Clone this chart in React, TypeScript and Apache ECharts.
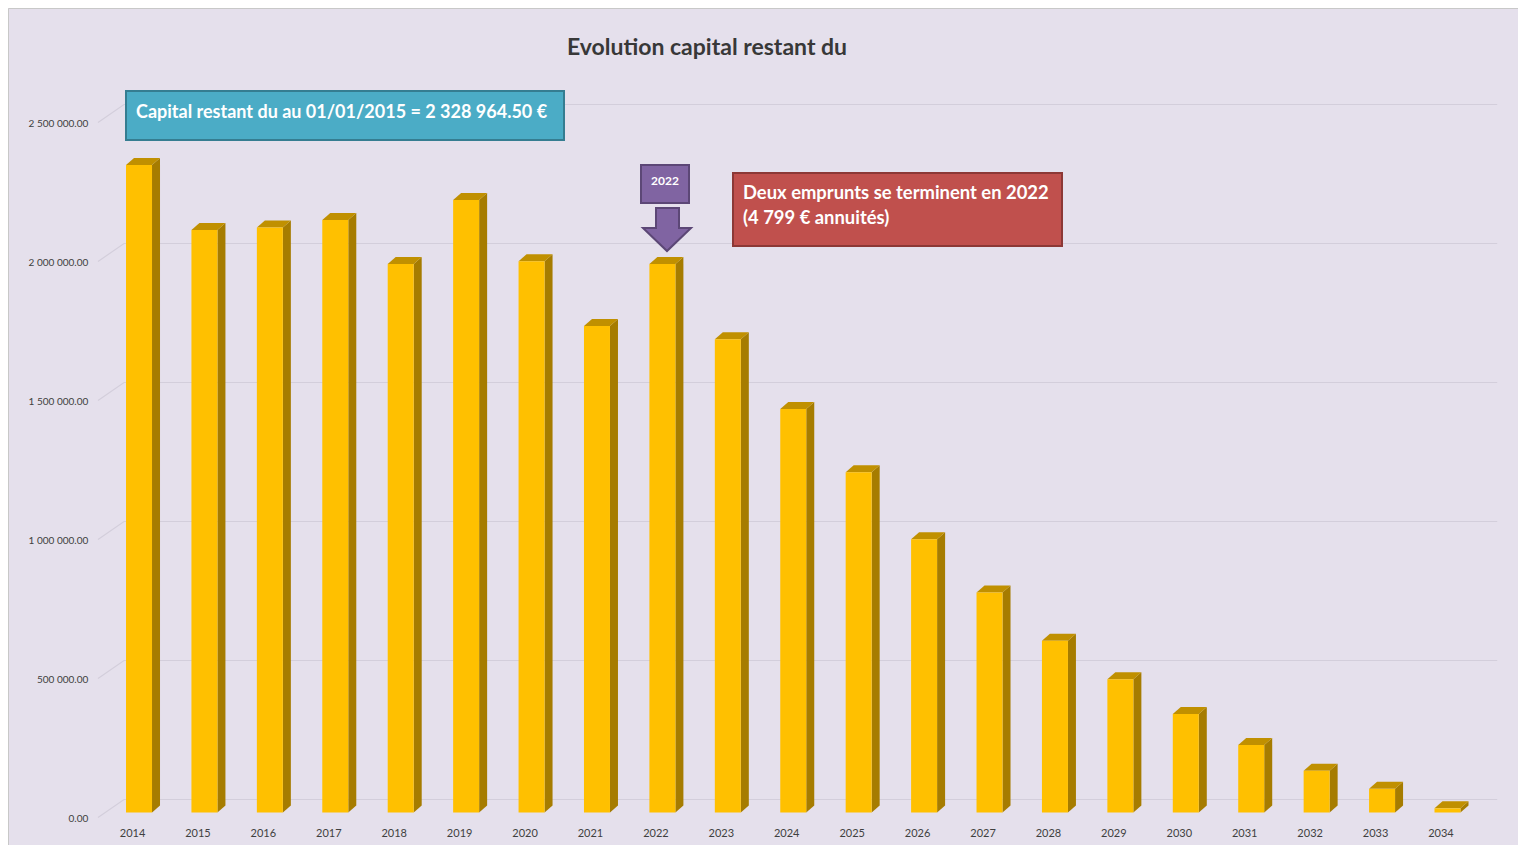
import React, { useEffect, useRef } from "react";
import * as echarts from "echarts";

const years = [
  "2014", "2015", "2016", "2017", "2018", "2019", "2020", "2021", "2022", "2023", "2024",
  "2025", "2026", "2027", "2028", "2029", "2030", "2031", "2032", "2033", "2034",
];
const capital = [
  2328964.5, 2095000, 2104000, 2131000, 1973000, 2203000, 1983000, 1750000, 1973000, 1702000, 1451000,
  1224000, 983000, 791000, 618000, 479000, 354000, 243000, 150000, 85000, 15000,
];
const yTicks = [0, 500000, 1000000, 1500000, 2000000, 2500000];

const TITLE = "Evolution capital restant du";
const NOTE_CAPITAL = "Capital restant du au 01/01/2015 = 2 328 964.50 €";
const NOTE_YEAR = "2022";
const NOTE_LOANS_1 = "Deux emprunts se terminent en 2022";
const NOTE_LOANS_2 = "(4 799 € annuités)";

const FONT = "Lato, 'Open Sans', sans-serif";

const fmt = (v: number) =>
  Math.round(v).toString().replace(/\B(?=(\d{3})+(?!\d))/g, " ") + ".00";

export default function App() {
  const ref = useRef<HTMLDivElement>(null);
  useEffect(() => {
    document.documentElement.style.overflow = "hidden";
    document.body.style.overflow = "hidden";
    if (!ref.current) return;
    const chart = echarts.init(ref.current, null, { renderer: "svg" });
    const o = 8; // page offset
    chart.setOption({
      animation: false,
      backgroundColor: "#e5e0ec",
      grid: { left: 98.3, right: 37.8, top: 109.5, bottom: 32.5, containLabel: false },
      xAxis: {
        type: "category",
        data: years,
        axisLine: { show: false },
        axisTick: { show: false },
        splitLine: { show: false },
        axisLabel: {
          margin: 14,
          fontFamily: FONT,
          fontSize: 11,
          color: "#404040",
          padding: [0, 13, 0, 0],
        },
      },
      yAxis: {
        type: "value",
        min: 0,
        max: 2500000,
        interval: 500000,
        axisLine: { show: false },
        axisTick: { show: false },
        splitLine: { show: false },
        axisLabel: {
          margin: 18,
          fontFamily: FONT,
          fontSize: 10,
          color: "#404040",
          verticalAlign: "top",
          formatter: (v: number) => fmt(v),
        },
      },
      series: [
        {
          type: "custom",
          z: 1,
          silent: true,
          data: yTicks.map((t) => [0, t]),
          renderItem: (params: any, api: any) => {
            const cs = params.coordSys;
            const y = api.coord([0, api.value(1)])[1];
            return {
              type: "polyline",
              shape: {
                points: [
                  [cs.x - 8.3, y + 5],
                  [cs.x + 17.7, y - 13],
                  [cs.x + cs.width + 17, y - 13],
                ],
              },
              style: { stroke: "#d3cedb", lineWidth: 1.2, fill: "none" },
            };
          },
        },
        {
          type: "custom",
          z: 2,
          data: capital.map((v, i) => [i, v]),
          renderItem: (params: any, api: any) => {
            const i = api.value(0);
            const v = api.value(1);
            const top = api.coord([i, v]);
            const base = api.coord([i, 0]);
            const w = 26;
            const dx = 8;
            const dy = -7;
            const l = top[0] - w / 2;
            const r = top[0] + w / 2;
            return {
              type: "group",
              children: [
                {
                  type: "polygon",
                  shape: {
                    points: [
                      [r, top[1]],
                      [r + dx, top[1] + dy],
                      [r + dx, base[1] + dy],
                      [r, base[1]],
                    ],
                  },
                  style: { fill: "#a67c00" },
                },
                {
                  type: "polygon",
                  shape: {
                    points: [
                      [l, top[1]],
                      [l + dx, top[1] + dy],
                      [r + dx, top[1] + dy],
                      [r, top[1]],
                    ],
                  },
                  style: { fill: "#c09000" },
                },
                {
                  type: "rect",
                  shape: { x: l, y: top[1], width: w, height: base[1] - top[1] },
                  style: { fill: "#ffc000" },
                },
              ],
            };
          },
        },
      ],
      graphic: [
        {
          type: "rect",
          silent: true,
          z: 100,
          shape: { x: 0.5, y: 0.5, width: 1520, height: 860 },
          style: { fill: "none", stroke: "#c8c8c8", lineWidth: 1 },
        },
        {
          type: "text",
          z: 100,
          x: 707 - o,
          y: 46 - o,
          style: {
            text: TITLE,
            fill: "#383838",
            font: `bold 23px ${FONT}`,
            align: "center",
            verticalAlign: "middle",
          },
        },
        {
          type: "rect",
          z: 100,
          shape: { x: 126 - o, y: 91 - o, width: 438, height: 49 },
          style: { fill: "#4bacc6", stroke: "#357d91", lineWidth: 2 },
        },
        {
          type: "text",
          z: 101,
          x: 136 - o,
          y: 111 - o,
          style: {
            text: NOTE_CAPITAL,
            fill: "#ffffff",
            font: `bold 18px ${FONT}`,
            verticalAlign: "middle",
          },
        },
        {
          type: "rect",
          z: 100,
          shape: { x: 641 - o, y: 165 - o, width: 48, height: 38 },
          style: { fill: "#8064a2", stroke: "#5c4776", lineWidth: 2 },
        },
        {
          type: "text",
          z: 101,
          x: 665 - o,
          y: 180 - o,
          style: {
            text: NOTE_YEAR,
            fill: "#ffffff",
            font: `bold 12px ${FONT}`,
            align: "center",
            verticalAlign: "middle",
          },
        },
        {
          type: "polygon",
          z: 100,
          shape: {
            points: [
              [656 - o, 208 - o],
              [679 - o, 208 - o],
              [679 - o, 228 - o],
              [691 - o, 228 - o],
              [667 - o, 251 - o],
              [643 - o, 228 - o],
              [656 - o, 228 - o],
            ],
          },
          style: { fill: "#8064a2", stroke: "#5c4776", lineWidth: 2 },
        },
        {
          type: "rect",
          z: 100,
          shape: { x: 733 - o, y: 173 - o, width: 329, height: 73 },
          style: { fill: "#c0504d", stroke: "#8c3836", lineWidth: 2 },
        },
        {
          type: "text",
          z: 101,
          x: 743 - o,
          y: 192 - o,
          style: {
            text: NOTE_LOANS_1,
            fill: "#ffffff",
            font: `bold 18.4px ${FONT}`,
            verticalAlign: "middle",
          },
        },
        {
          type: "text",
          z: 101,
          x: 743 - o,
          y: 217 - o,
          style: {
            text: NOTE_LOANS_2,
            fill: "#ffffff",
            font: `bold 18.4px ${FONT}`,
            verticalAlign: "middle",
          },
        },
      ],
    });
    return () => chart.dispose();
  }, []);
  return (
    <div
      ref={ref}
      style={{ position: "fixed", left: 8, top: 8, width: 1510, height: 837 }}
    />
  );
}
